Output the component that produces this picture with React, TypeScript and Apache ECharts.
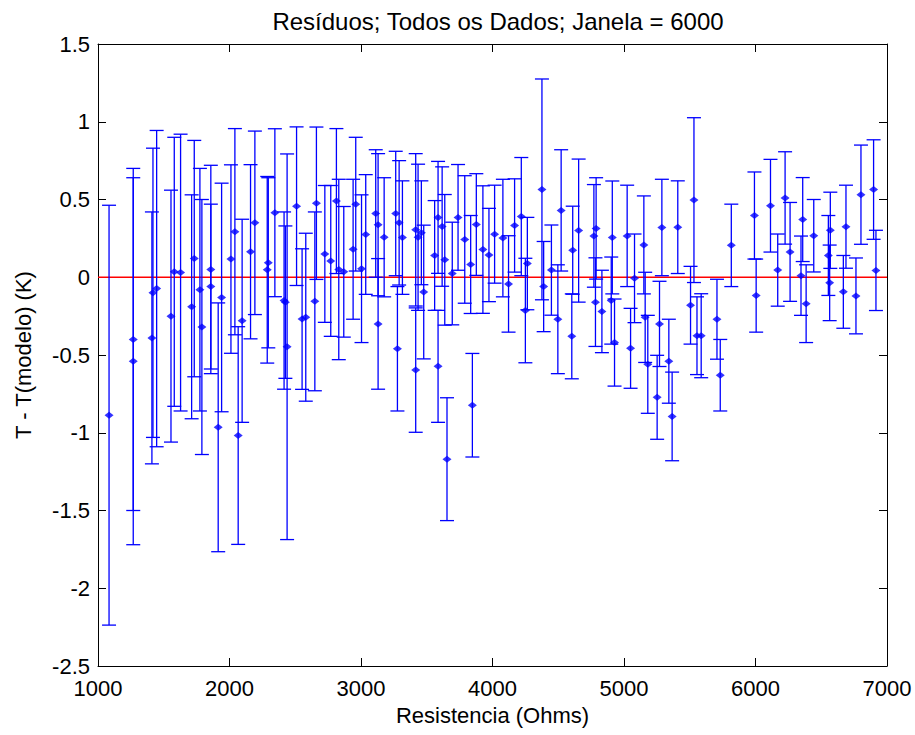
import React, { useEffect, useRef } from "react";
import * as echarts from "echarts";

// Resistance (Ohms) of each measurement
const resistance = [
  1084, 1268, 1268, 1410, 1418, 1446, 1555, 1580, 1628, 1712, 1732, 1775, 1790, 1858, 1858,
  1914, 1940, 2011, 2041, 2066, 2096, 2160, 2193, 2287, 2295, 2345, 2415, 2425, 2438, 2510,
  2552, 2580, 2649, 2661, 2725, 2770, 2813, 2831, 2869, 2940, 2960, 3004, 3036, 3112, 3130,
  3130, 3176, 3264, 3277, 3290, 3315, 3416, 3416, 3434, 3459, 3477, 3560, 3586, 3586, 3617,
  3637, 3654, 3694, 3738, 3789, 3834, 3847, 3877, 3927, 3973, 4016, 4079, 4122, 4168, 4219,
  4250, 4265, 4376, 4389, 4448, 4497, 4522, 4603, 4610, 4655, 4771, 4783, 4788, 4832, 4903,
  4911, 4928, 5024, 5050, 5080, 5151, 5161, 5181, 5252, 5270, 5288, 5341, 5366, 5409, 5506,
  5532, 5555, 5587, 5707, 5732, 5816, 5992, 6005, 6114, 6169, 6225, 6263, 6346, 6359, 6385,
  6443, 6554, 6564, 6569, 6668, 6688, 6764, 6802, 6898, 6916,
];

// Residuals T - T(model) (K)
const residual = [
  -0.887, -0.4, -0.54, -0.39, -0.1, -0.073, -0.25, 0.035, 0.03, -0.19, 0.12, -0.08, -0.32, 0.05, -0.06,
  -0.965, -0.13, 0.117, 0.293, -1.018, -0.28, 0.164, 0.35, 0.048, 0.093, 0.415, -0.15, -0.16, -0.447, 0.457,
  -0.269, -0.257, -0.155, 0.476, 0.15, 0.105, 0.49, 0.05, 0.035, 0.18, 0.47, 0.055, 0.275, 0.41, 0.338,
  -0.3, 0.257, 0.41, -0.46, 0.35, 0.255, -0.597, 0.305, 0.257, 0.286, -0.095, 0.14, 0.385, -0.573, 0.326,
  0.112, -1.17, 0.024, 0.385, 0.243, 0.082, -0.823, 0.339, 0.178, 0.143, 0.277, 0.252, -0.043, 0.333, 0.39,
  -0.214, 0.088, 0.565, -0.06, 0.046, -0.27, 0.43, -0.38, 0.174, 0.3, 0.266, -0.16, 0.314, -0.22, -0.15,
  0.256, -0.42, 0.266, -0.457, -0.007, 0.208, -0.258, -0.56, -0.772, -0.3, 0.32, -0.54, -0.895, 0.322, -0.18,
  0.496, -0.376, -0.376, -0.27, -0.63, 0.205, 0.397, -0.118, 0.46, 0.046, 0.51, 0.163, 0.01, 0.371, -0.17,
  0.267, 0.14, -0.036, 0.302, -0.094, 0.325, -0.12, 0.531, 0.564, 0.044,
];

// Half-length of each error bar (K)
const errorHalf = [
  1.35, 1.1, 1.18, 0.81, 0.93, 1.017, 0.81, 0.865, 0.89, 0.72, 0.76, 0.78, 0.82, 0.67, 0.53,
  0.8, 0.735, 0.606, 0.663, 0.7, 0.653, 0.56, 0.59, 0.6, 0.547, 0.54, 0.57, 0.49, 1.24, 0.51,
  0.452, 0.54, 0.575, 0.49, 0.44, 0.485, 0.466, 0.58, 0.42, 0.45, 0.43, 0.475, 0.385, 0.41, 0.457,
  0.42, 0.383, 0.4, 0.4, 0.4, 0.365, 0.4, 0.49, 0.47, 0.334, 0.43, 0.353, 0.36, 0.36, 0.384,
  0.42, 0.395, 0.33, 0.34, 0.41, 0.315, 0.333, 0.327, 0.41, 0.3, 0.315, 0.378, 0.31, 0.3, 0.38,
  0.336, 0.297, 0.71, 0.29, 0.29, 0.35, 0.39, 0.273, 0.283, 0.46, 0.33, 0.285, 0.326, 0.265, 0.28,
  0.363, 0.28, 0.326, 0.257, 0.285, 0.315, 0.29, 0.315, 0.27, 0.274, 0.31, 0.27, 0.285, 0.298, 0.25,
  0.53, 0.25, 0.27, 0.257, 0.23, 0.265, 0.28, 0.235, 0.298, 0.232, 0.297, 0.318, 0.255, 0.27, 0.25,
  0.233, 0.257, 0.243, 0.245, 0.234, 0.267, 0.244, 0.319, 0.32, 0.258,
];

const xTicks = { min: 1000, max: 7000, interval: 1000 };
const yTicks = { min: -2.5, max: 1.5, interval: 0.5 };
const zeroLine = [[1000, 0], [7000, 0]];

const FONT = "'Liberation Sans', Arial, sans-serif";

export default function App() {
  const ref = useRef<HTMLDivElement>(null);

  useEffect(() => {
    if (!ref.current) return;
    const chart = echarts.init(ref.current, undefined, { renderer: "svg" });

    const errData = resistance.map((r, i) => [r, residual[i], errorHalf[i]]);
    const ptData = resistance.map((r, i) => [r, residual[i]]);
    const CAP = 7;

    const axisCommon = {
      type: "value" as const,
      splitLine: { show: false },
      axisLine: { show: true, onZero: false, lineStyle: { color: "#000", width: 1 } },
      axisTick: { show: true, inside: true, length: 8, lineStyle: { color: "#000" } },
    };

    chart.setOption({
      animation: false,
      backgroundColor: "#fff",
      title: {
        text: "Resíduos; Todos os Dados; Janela = 6000",
        left: 493,
        textAlign: "center",
        top: 4,
        textStyle: { fontFamily: FONT, fontSize: 24, fontWeight: "normal", color: "#000" },
      },
      grid: { left: 98, right: 28, top: 44, bottom: 69 },
      xAxis: [
        {
          ...axisCommon,
          position: "bottom",
          min: xTicks.min,
          max: xTicks.max,
          interval: xTicks.interval,
          name: "Resistencia (Ohms)",
          nameLocation: "middle",
          nameGap: 38,
          nameTextStyle: { fontFamily: FONT, fontSize: 22, color: "#000" },
          axisLabel: {
            fontFamily: FONT,
            fontSize: 22,
            color: "#000",
            margin: 11,
            formatter: (v: number) => String(v),
          },
        },
        {
          ...axisCommon,
          position: "top",
          min: xTicks.min,
          max: xTicks.max,
          interval: xTicks.interval,
          axisLabel: { show: false },
        },
      ],
      yAxis: [
        {
          ...axisCommon,
          position: "left",
          min: yTicks.min,
          max: yTicks.max,
          interval: yTicks.interval,
          name: "T - T(modelo) (K)",
          nameLocation: "middle",
          nameGap: 64,
          nameTextStyle: { fontFamily: FONT, fontSize: 22, color: "#000" },
          axisLabel: { fontFamily: FONT, fontSize: 22, color: "#000", margin: 8 },
        },
        {
          ...axisCommon,
          position: "right",
          min: yTicks.min,
          max: yTicks.max,
          interval: yTicks.interval,
          axisLabel: { show: false },
        },
      ],
      series: [
        {
          type: "line",
          data: zeroLine,
          symbol: "none",
          lineStyle: { color: "#ff0000", width: 1.5 },
          z: 1,
          silent: true,
        },
        {
          type: "custom",
          data: errData,
          z: 2,
          renderItem: (params: any, api: any) => {
            const x = api.value(0);
            const y = api.value(1);
            const e = api.value(2);
            const top = api.coord([x, y + e]);
            const bot = api.coord([x, y - e]);
            const style = { stroke: "#0000ff", lineWidth: 1.3 };
            return {
              type: "group",
              children: [
                { type: "line", shape: { x1: top[0], y1: top[1], x2: bot[0], y2: bot[1] }, style },
                { type: "line", shape: { x1: top[0] - CAP, y1: top[1], x2: top[0] + CAP, y2: top[1] }, style },
                { type: "line", shape: { x1: bot[0] - CAP, y1: bot[1], x2: bot[0] + CAP, y2: bot[1] }, style },
              ],
            };
          },
        },
        {
          type: "scatter",
          data: ptData,
          symbol: "diamond",
          symbolSize: [9, 7],
          itemStyle: { color: "#0000ff" },
          z: 3,
        },
      ],
    });

    return () => chart.dispose();
  }, []);

  return (
    <div
      ref={ref}
      style={{ position: "absolute", left: 0, top: 0, width: 915, height: 735, background: "#fff" }}
    />
  );
}
